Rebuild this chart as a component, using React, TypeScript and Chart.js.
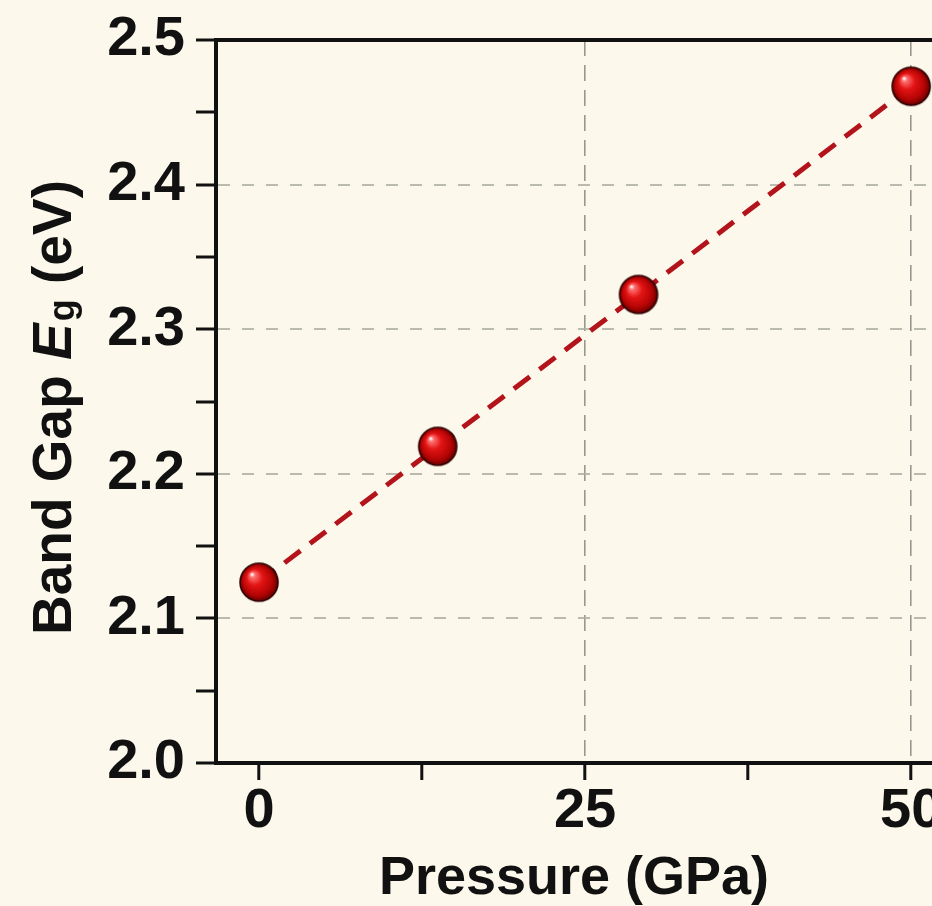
import React, { useEffect, useRef } from 'react';
import { Chart, registerables } from 'chart.js';

Chart.register(...registerables);

// ---- data ----
const pressureGPa = [0, 13.7, 29.1, 50];
const bandGapEv = [2.125, 2.219, 2.324, 2.468];

// axis ranges / tick values
const xRange = [-3.3, 51.6];
const yRange = [2.0, 2.5];
const xLabelTicks = [0, 25, 50];
const xGridTicks = [25, 50];
const yLabelTicks = [2.0, 2.1, 2.2, 2.3, 2.4, 2.5];
const yGridTicks = [2.1, 2.2, 2.3, 2.4];

// texts
const xTitle = 'Pressure (GPa)';
const yTitleMain = 'Band Gap ';
const yTitleSymbol = 'E';
const yTitleSub = 'g';
const yTitleUnit = ' (eV)';

const FONT = "'Liberation Sans', Arial, Helvetica, sans-serif";
const INK = '#111111';
const BG = '#fcf9ec';

const near = (list: number[], v: number) => list.find((t) => Math.abs(t - v) < 1e-6);

function makeSphere(r: number): HTMLCanvasElement {
  const s = Math.ceil(r * 2 + 4);
  const c = document.createElement('canvas');
  c.width = s;
  c.height = s;
  const g = c.getContext('2d')!;
  const cx = s / 2;
  const cy = s / 2;
  const grad = g.createRadialGradient(cx - r * 0.38, cy - r * 0.42, r * 0.04, cx, cy, r);
  grad.addColorStop(0, '#fff0f0');
  grad.addColorStop(0.1, '#ff7070');
  grad.addColorStop(0.4, '#e31414');
  grad.addColorStop(0.78, '#b40404');
  grad.addColorStop(1, '#650000');
  g.beginPath();
  g.arc(cx, cy, r, 0, Math.PI * 2);
  g.fillStyle = grad;
  g.fill();
  g.lineWidth = 1.6;
  g.strokeStyle = '#2e0000';
  g.stroke();
  return c;
}

const yTitlePlugin = {
  id: 'yTitleRich',
  afterDraw(chart: any) {
    const ctx = chart.ctx as CanvasRenderingContext2D;
    const area = chart.chartArea;
    const cy = (area.top + area.bottom) / 2 + 6;
    const baseX = 71;
    const big = 55;
    const sub = 36;
    ctx.save();
    ctx.translate(baseX, cy);
    ctx.rotate(-Math.PI / 2);
    ctx.fillStyle = INK;
    ctx.textBaseline = 'alphabetic';
    ctx.textAlign = 'left';
    const fMain = `bold ${big}px ${FONT}`;
    const fIt = `italic bold ${big}px ${FONT}`;
    const fSub = `bold ${sub}px ${FONT}`;
    ctx.font = fMain;
    const w1 = ctx.measureText(yTitleMain).width;
    const w4 = ctx.measureText(yTitleUnit).width;
    ctx.font = fIt;
    const w2 = ctx.measureText(yTitleSymbol).width;
    ctx.font = fSub;
    const w3 = ctx.measureText(yTitleSub).width;
    const total = w1 + w2 + 2 + w3 + w4;
    let x = -total / 2;
    ctx.font = fMain;
    ctx.fillText(yTitleMain, x, 0);
    x += w1;
    ctx.font = fIt;
    ctx.fillText(yTitleSymbol, x, 0);
    x += w2 + 2;
    ctx.font = fSub;
    ctx.fillText(yTitleSub, x, 3);
    x += w3;
    ctx.font = fMain;
    ctx.fillText(yTitleUnit, x, 0);
    ctx.restore();
  },
};

export default function App() {
  const ref = useRef<HTMLCanvasElement | null>(null);

  useEffect(() => {
    if (!ref.current) return;
    const sphere = makeSphere(19);
    const points = pressureGPa.map((p, i) => ({ x: p, y: bandGapEv[i] }));

    const chart = new Chart(ref.current, {
      type: 'line',
      data: {
        datasets: [
          {
            data: points,
            borderColor: '#b3141c',
            borderWidth: 5,
            borderDash: [20, 12],
            pointStyle: sphere as any,
            pointRadius: 19,
            pointHoverRadius: 19,
            fill: false,
            tension: 0,
            clip: false as any,
          },
        ],
      },
      options: {
        animation: false,
        responsive: false,
        devicePixelRatio: 1,
        events: [],
        layout: { autoPadding: false, padding: { top: 40, left: 0, right: 0, bottom: 0 } },
        plugins: {
          legend: { display: false },
          tooltip: { enabled: false },
          title: { display: false },
        },
        scales: {
          x: {
            type: 'linear',
            position: 'bottom',
            min: xRange[0],
            max: xRange[1],
            afterFit: (s: any) => {
              s.height = 143;
              s.paddingLeft = 0;
              s.paddingRight = 0;
            },
            ticks: {
              stepSize: 12.5,
              includeBounds: false,
              autoSkip: false,
              maxRotation: 0,
              minRotation: 0,
              padding: 4,
              color: INK,
              font: { family: FONT, size: 56, weight: 'bold', lineHeight: 1 },
              callback: (v: any) => {
                const m = near(xLabelTicks, Number(v));
                return m !== undefined ? String(m) : '';
              },
            },
            grid: {
              color: (c: any) =>
                c.tick && near(xGridTicks, c.tick.value) !== undefined
                  ? 'rgba(135,135,128,0.85)'
                  : 'rgba(0,0,0,0)',
              lineWidth: 1.6,
              tickColor: INK,
              tickLength: 17,
              tickWidth: 3,
              drawTicks: true,
            },
            border: { display: true, color: INK, width: 4, dash: [16, 9] },
            title: {
              display: true,
              text: xTitle,
              color: INK,
              font: { family: FONT, size: 54, weight: 'bold', lineHeight: 1 },
              padding: { top: 0, bottom: 0 },
            },
          },
          xTop: {
            type: 'linear',
            position: 'top',
            min: xRange[0],
            max: xRange[1],
            afterFit: (s: any) => {
              s.height = 0;
              s.paddingLeft = 0;
              s.paddingRight = 0;
            },
            ticks: { display: false },
            grid: { drawOnChartArea: false, drawTicks: false },
            border: { display: true, color: INK, width: 4 },
          },
          y: {
            type: 'linear',
            position: 'left',
            min: yRange[0],
            max: yRange[1],
            afterFit: (s: any) => {
              s.width = 216;
              s.paddingTop = 0;
              s.paddingBottom = 0;
            },
            ticks: {
              stepSize: 0.05,
              includeBounds: false,
              autoSkip: false,
              padding: 11,
              color: INK,
              font: { family: FONT, size: 56, weight: 'bold', lineHeight: 1 },
              callback: (v: any) => {
                const m = near(yLabelTicks, Number(v));
                return m !== undefined ? m.toFixed(1) : '';
              },
            },
            grid: {
              color: (c: any) =>
                c.tick && near(yGridTicks, c.tick.value) !== undefined
                  ? 'rgba(175,175,165,0.85)'
                  : 'rgba(0,0,0,0)',
              lineWidth: 2,
              tickColor: INK,
              tickLength: 20,
              tickWidth: 3,
              drawTicks: true,
            },
            border: { display: true, color: INK, width: 4, dash: [12, 12] },
          },
        },
      } as any,
      plugins: [yTitlePlugin],
    });

    return () => chart.destroy();
  }, []);

  return (
    <div
      style={{
        position: 'fixed',
        left: 0,
        top: 0,
        width: 932,
        height: 906,
        background: BG,
        overflow: 'hidden',
      }}
    >
      <canvas ref={ref} width={932} height={906} style={{ display: 'block' }} />
    </div>
  );
}
